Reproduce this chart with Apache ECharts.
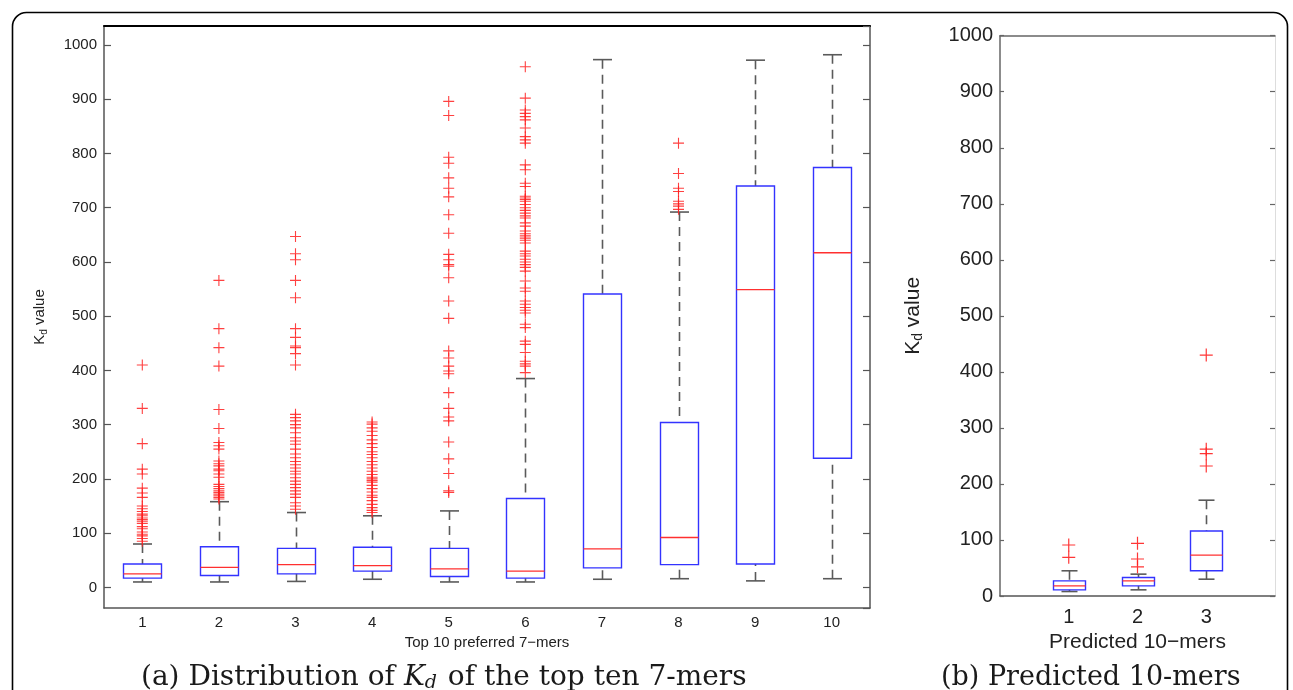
<!DOCTYPE html>
<html>
<head>
<meta charset="utf-8">
<script src="https://cdn.jsdelivr.net/npm/echarts@6/dist/echarts.min.js"></script>
<style>
html,body{margin:0;padding:0;background:#fff;}
#chart{width:1293px;height:690px;}
</style>
</head>
<body>
<div id="chart"></div>
<script>
// ---------- Panel (a): top ten 7-mers ----------
const catsA = ['1','2','3','4','5','6','7','8','9','10'];
const lowA  = [10, 10, 11, 15, 10, 10, 15, 16, 12, 16];
const q1A   = [17, 22, 25, 30, 20, 17, 36, 42, 43, 238];
const medA  = [25, 37, 42, 40, 34, 30, 71, 92, 549, 617];
const q3A   = [43, 75, 72, 74, 72, 164, 541, 304, 740, 774];
const highA = [80, 158, 138, 132, 141, 385, 973, 692, 972, 982];
const outA1 = [85, 90, 95, 98, 102, 108, 112, 118, 122, 125, 128, 132, 135, 140, 145, 150, 166, 174, 183, 209, 218, 265, 330, 410];
const outA2 = [163, 166, 169, 172, 175, 178, 182, 186, 190, 203, 209, 215, 218, 224, 228, 233, 255, 261, 267, 293, 328, 408, 442, 477, 566];
const outA3 = [144, 150, 156, 166, 172, 178, 184, 190, 196, 202, 209, 214, 220, 226, 232, 239, 246, 255, 264, 270, 276, 285, 294, 300, 307, 313, 319, 410, 431, 442, 445, 461, 477, 534, 566, 604, 615, 647];
const outA4 = [138, 142, 147, 153, 160, 166, 170, 176, 182, 188, 194, 197, 200, 203, 208, 214, 220, 226, 232, 239, 245, 250, 258, 265, 272, 280, 288, 294, 301, 305];
const outA5 = [175, 178, 210, 237, 268, 307, 314, 330, 359, 394, 399, 408, 423, 436, 496, 528, 571, 592, 595, 604, 614, 653, 687, 720, 736, 755, 782, 793, 870, 896];
const outA6 = [396, 408, 412, 417, 433, 448, 454, 479, 485, 506, 511, 516, 522, 528, 546, 552, 565, 583, 590, 595, 600, 605, 611, 615, 620, 635, 640, 644, 648, 652, 657, 666, 672, 681, 685, 690, 695, 700, 706, 712, 715, 718, 721, 739, 745, 770, 779, 819, 825, 831, 847, 862, 868, 874, 880, 902, 960];
const outA7 = [];
const outA8 = [697, 703, 707, 712, 730, 736, 763, 819];
const outA9 = [];
const outA10 = [];
const outliersA = [outA1, outA2, outA3, outA4, outA5, outA6, outA7, outA8, outA9, outA10];

// ---------- Panel (b): predicted 10-mers ----------
const catsB = ['1','2','3'];
const lowB  = [8, 11, 30];
const q1B   = [11, 18, 45];
const medB  = [18, 27, 73];
const q3B   = [27, 33, 116];
const highB = [45, 39, 171];
const outB1 = [69, 91];
const outB2 = [52, 66, 94];
const outB3 = [232, 254, 262, 430];
const outliersB = [outB1, outB2, outB3];

const yRangeA = [-38, 1035];
const yRangeB = [0, 1000];

function boxData(xs, lo, q1, med, q3, hi) {
  return xs.map((x, i) => [x, lo[i], q1[i], med[i], q3[i], hi[i]]);
}
function outData(xs, outs) {
  const r = [];
  outs.forEach((arr, i) => arr.forEach(v => r.push([xs[i], v])));
  return r;
}
function makeRender(boxW, capW, dash) {
  return function (params, api) {
    const x = api.value(0);
    const pLo = api.coord([x, api.value(1)]);
    const pQ1 = api.coord([x, api.value(2)]);
    const pMed = api.coord([x, api.value(3)]);
    const pQ3 = api.coord([x, api.value(4)]);
    const pHi = api.coord([x, api.value(5)]);
    const cx = Math.round(pLo[0]) + 0.5;
    const wStyle = { stroke: '#5a5a5a', lineWidth: 1.6, lineDash: dash };
    const cStyle = { stroke: '#5a5a5a', lineWidth: 1.6 };
    return {
      type: 'group',
      children: [
        { type: 'line', shape: { x1: cx, y1: pHi[1], x2: cx, y2: pQ3[1] }, style: wStyle },
        { type: 'line', shape: { x1: cx, y1: pLo[1], x2: cx, y2: pQ1[1] }, style: wStyle },
        { type: 'line', shape: { x1: cx - capW / 2, y1: pHi[1], x2: cx + capW / 2, y2: pHi[1] }, style: cStyle },
        { type: 'line', shape: { x1: cx - capW / 2, y1: pLo[1], x2: cx + capW / 2, y2: pLo[1] }, style: cStyle },
        { type: 'rect', shape: { x: cx - boxW / 2, y: pQ3[1], width: boxW, height: pQ1[1] - pQ3[1] },
          style: { fill: 'rgba(255,255,255,0)', stroke: '#3333ff', lineWidth: 1.4 } },
        { type: 'line', shape: { x1: cx - boxW / 2, y1: pMed[1], x2: cx + boxW / 2, y2: pMed[1] },
          style: { stroke: '#ff3030', lineWidth: 1.3 } }
      ]
    };
  };
}

const xsA = catsA.map((c, i) => i);
const xsB = catsB.map((c, i) => i + 1);
const plus = 'path://M0,5L10,5M5,0L5,10';
const sans = 'Liberation Sans, Arial, sans-serif';
const serif = 'DejaVu Serif, Liberation Serif, serif';
const txt = '#222';
const plain = v => String(v);

const chart = echarts.init(document.getElementById('chart'), null, { renderer: 'canvas' });
chart.setOption({
  backgroundColor: '#fff',
  animation: false,
  graphic: [{
    type: 'rect', left: 10, top: 10, silent: true, z: -10,
    shape: { width: 1275, height: 720, r: 14 },
    style: { fill: 'none', stroke: '#000', lineWidth: 1.6 }
  }],
  title: [
    {
      text: '{n|(a) Distribution of }{i|K}{s|d}{n| of the top ten 7-mers}',
      left: 136, top: 658,
      textStyle: { fontWeight: 'normal', rich: {
        n: { fontFamily: serif, fontSize: 28, fontWeight: 'normal', color: '#1a1a1a' },
        i: { fontFamily: serif, fontSize: 28, fontWeight: 'normal', fontStyle: 'italic', color: '#1a1a1a' },
        s: { fontFamily: serif, fontSize: 19, fontWeight: 'normal', fontStyle: 'italic', color: '#1a1a1a', padding: [11, 2, 0, 0] }
      } }
    },
    {
      text: '(b) Predicted 10-mers',
      left: 936, top: 659,
      textStyle: { fontFamily: serif, fontSize: 27, fontWeight: 'normal', color: '#1a1a1a' }
    }
  ],
  grid: [
    { left: 104, top: 26, width: 766, height: 582 },
    { left: 1000, top: 35.7, width: 275, height: 560.3 }
  ],
  xAxis: [
    {
      gridIndex: 0, type: 'category', data: catsA, position: 'bottom',
      axisLine: { onZero: false, lineStyle: { color: '#555', width: 1.5 } },
      axisTick: { show: false },
      axisLabel: { color: txt, fontFamily: sans, fontSize: 15, margin: 7 },
      name: 'Top 10 preferred 7\u2212mers', nameLocation: 'middle', nameGap: 18,
      nameTextStyle: { color: txt, fontFamily: sans, fontSize: 15 }
    },
    {
      gridIndex: 0, type: 'category', data: catsA, position: 'top',
      axisLine: { onZero: false, lineStyle: { color: '#000', width: 2 } },
      axisTick: { show: false }, axisLabel: { show: false }
    },
    {
      gridIndex: 1, type: 'value', min: 0, max: 4, interval: 1, position: 'bottom',
      axisLine: { onZero: false, lineStyle: { color: '#555', width: 1.5 } },
      axisTick: { show: false }, splitLine: { show: false },
      axisLabel: { color: txt, fontFamily: sans, fontSize: 20, margin: 11,
        formatter: v => (v >= 1 && v <= catsB.length) ? catsB[v - 1] : '' },
      name: 'Predicted 10\u2212mers', nameLocation: 'middle', nameGap: 27,
      nameTextStyle: { color: txt, fontFamily: sans, fontSize: 21 }
    },
    {
      gridIndex: 1, type: 'value', min: 0, max: 4, interval: 1, position: 'top',
      axisLine: { onZero: false, lineStyle: { color: '#666', width: 1.5 } },
      axisTick: { show: false }, axisLabel: { show: false }, splitLine: { show: false }
    }
  ],
  yAxis: [
    {
      gridIndex: 0, type: 'value', min: yRangeA[0], max: yRangeA[1], splitNumber: 10, position: 'left',
      axisLine: { show: true, onZero: false, lineStyle: { color: '#555', width: 1.5 } },
      axisTick: { show: true, inside: true, length: 7, lineStyle: { color: '#555', width: 1.2 } },
      axisLabel: { color: txt, fontFamily: sans, fontSize: 15, margin: 7, showMinLabel: false, showMaxLabel: false, formatter: plain },
      splitLine: { show: false },
      name: '{b|K}{s|d}{b| value}', nameLocation: 'middle', nameGap: 55, nameRotate: 90,
      nameTextStyle: { color: txt, rich: {
        b: { fontFamily: sans, fontSize: 15, color: txt },
        s: { fontFamily: sans, fontSize: 10, color: txt, padding: [8, 0, 0, 0] }
      } }
    },
    {
      gridIndex: 0, type: 'value', min: yRangeA[0], max: yRangeA[1], splitNumber: 10, position: 'right',
      axisLine: { show: true, onZero: false, lineStyle: { color: '#555', width: 1.5 } },
      axisTick: { show: true, inside: true, length: 7, lineStyle: { color: '#555', width: 1.2 } },
      axisLabel: { show: false }, splitLine: { show: false }
    },
    {
      gridIndex: 1, type: 'value', min: yRangeB[0], max: yRangeB[1], interval: 100, position: 'left',
      axisLine: { show: true, onZero: false, lineStyle: { color: '#666', width: 1.5 } },
      axisTick: { show: true, inside: true, length: 4, lineStyle: { color: '#666', width: 1.2 } },
      axisLabel: { color: txt, fontFamily: sans, fontSize: 20, margin: 7, formatter: plain },
      splitLine: { show: false },
      name: '{b|K}{s|d}{b| value}', nameLocation: 'middle', nameGap: 75, nameRotate: 90,
      nameTextStyle: { color: txt, rich: {
        b: { fontFamily: sans, fontSize: 21, color: txt },
        s: { fontFamily: sans, fontSize: 14, color: txt, padding: [10, 0, 0, 0] }
      } }
    },
    {
      gridIndex: 1, type: 'value', min: yRangeB[0], max: yRangeB[1], interval: 100, position: 'right',
      axisLine: { show: true, onZero: false, lineStyle: { color: '#ddd', width: 1 } },
      axisTick: { show: true, inside: true, length: 5, lineStyle: { color: '#666', width: 1.2 } },
      axisLabel: { show: false }, splitLine: { show: false }
    }
  ],
  series: [
    {
      type: 'custom', xAxisIndex: 0, yAxisIndex: 0,
      renderItem: makeRender(38, 19, [9, 6]),
      encode: { x: 0, y: [1, 2, 3, 4, 5] },
      data: boxData(xsA, lowA, q1A, medA, q3A, highA), z: 2
    },
    {
      type: 'scatter', xAxisIndex: 0, yAxisIndex: 0,
      symbol: plus, symbolSize: 11,
      itemStyle: { color: 'rgba(0,0,0,0)', borderColor: '#ff2020', borderWidth: 1.1, opacity: 0.85 },
      data: outData(xsA, outliersA), z: 3
    },
    {
      type: 'custom', xAxisIndex: 2, yAxisIndex: 2,
      renderItem: makeRender(32, 16, [9, 6]),
      encode: { x: 0, y: [1, 2, 3, 4, 5] },
      data: boxData(xsB, lowB, q1B, medB, q3B, highB), z: 2
    },
    {
      type: 'scatter', xAxisIndex: 2, yAxisIndex: 2,
      symbol: plus, symbolSize: 13,
      itemStyle: { color: 'rgba(0,0,0,0)', borderColor: '#ff2020', borderWidth: 1.2, opacity: 0.9 },
      data: outData(xsB, outliersB), z: 3
    }
  ]
});
</script>
</body>
</html>
